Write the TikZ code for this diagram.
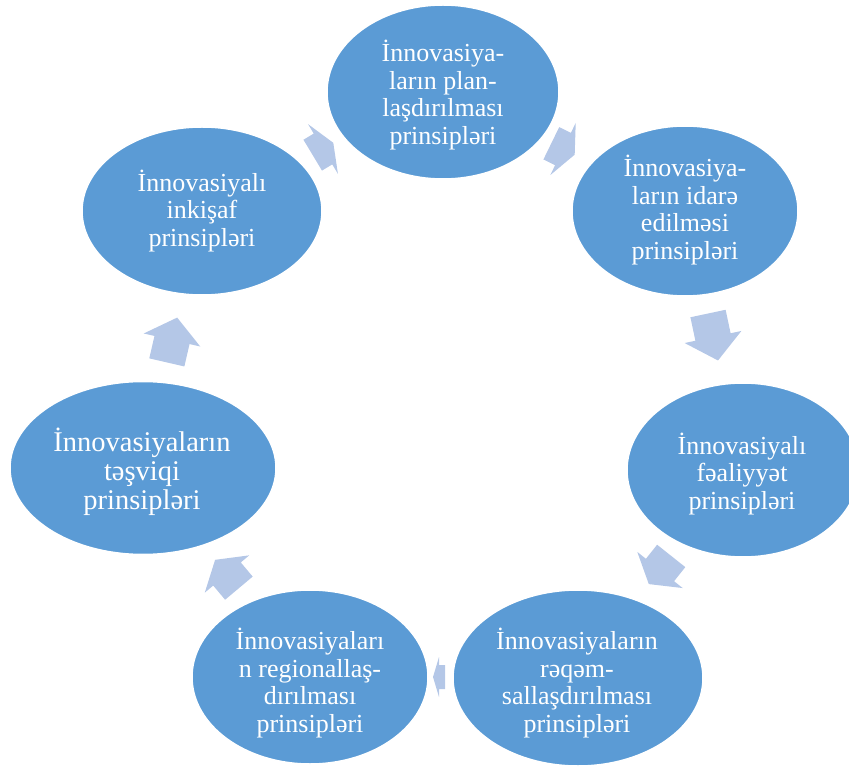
\documentclass[tikz,border=0pt]{standalone}
\usepackage{fontspec}
\setmainfont{Liberation Serif}
\usetikzlibrary{shapes.geometric}
\definecolor{bubfill}{RGB}{91,155,213}
\definecolor{arrfill}{RGB}{180,199,231}
\newcommand{\blkarrow}[6]{%
  \fill[arrfill, shift={(#1,#2)}, rotate=#3]
    (-#4/2,-#6) -- (0,-#6) -- (0,-#5) -- (#4/2,0) -- (0,#5) -- (0,#6) -- (-#4/2,#6) -- cycle;}
\tikzset{
  bub/.style={ellipse, fill=bubfill, draw=white, line width=1.5pt, inner sep=0pt},
  txt/.style={text=white, align=center, font=\fontsize{26}{27.8}\selectfont, inner sep=0pt},
  bigtxt/.style={txt, font=\fontsize{28.5}{28.8}\selectfont}
}
\begin{document}
\begin{tikzpicture}[x=1pt,y=-1pt]
\useasboundingbox (0,0) rectangle (849,767);
\clip (0,0) rectangle (849,767);
% block arrows (drawn first, ellipses cover their ends)
\blkarrow{323}{149}{31}{24}{29}{18}
\blkarrow{563}{149}{-26}{26}{29}{18}
\blkarrow{713}{337}{-78}{48}{29}{18}
\blkarrow{660}{570}{-128.5}{36}{29}{18}
\blkarrow{439}{677}{180}{12}{20}{12}
\blkarrow{227}{574}{130}{37}{29}{18}
\blkarrow{172}{340}{77}{46}{29}{18}
% ellipses
\node[bub, minimum width=232, minimum height=174] (n1) at (443,92) {};
\node[bub, minimum width=226, minimum height=170] (n2) at (685,211) {};
\node[bub, minimum width=232, minimum height=174] (n3) at (743,470) {};
\node[bub, minimum width=250, minimum height=176] (n4) at (578,678) {};
\node[bub, minimum width=236, minimum height=174] (n5) at (310,677) {};
\node[bub, minimum width=266, minimum height=173] (n6) at (143,468) {};
\node[bub, minimum width=240, minimum height=168] (n7) at (202,211) {};
% texts
\node[txt] (t1) at (443,95) {İnnovasiya-\\ların plan-\\laşdırılması\\prinsipləri};
\node[txt] (t2) at (685,210) {İnnovasiya-\\ların idarə\\edilməsi\\prinsipləri};
\node[txt] (t3) at (742,474) {İnnovasiyalı\\fəaliyyət\\prinsipləri};
\node[txt] (t4) at (577,683) {İnnovasiyaların\\rəqəm-\\sallaşdırılması\\prinsipləri};
\node[txt] (t5) at (310,683) {İnnovasiyaları\\n regionallaş-\\dırılması\\prinsipləri};
\node[bigtxt] (t6) at (142,472) {İnnovasiyaların\\təşviqi\\prinsipləri};
\node[txt] (t7) at (202,211) {İnnovasiyalı\\inkişaf\\prinsipləri};
\end{tikzpicture}
\end{document}
